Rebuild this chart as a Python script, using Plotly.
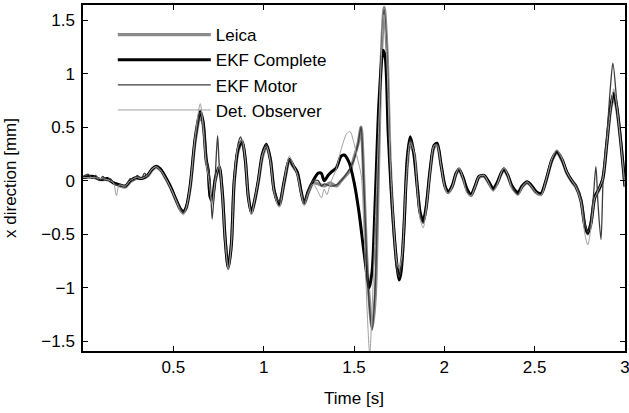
import plotly.graph_objects as go

# ---- data (time in s, displacement in mm) ----
ekf_complete_t = [0.000, 0.057, 0.096, 0.134, 0.168, 0.206, 0.234, 0.262, 0.295, 0.323, 0.356, 0.383,
                  0.405, 0.428, 0.455, 0.483, 0.511, 0.538, 0.555, 0.571, 0.593, 0.621, 0.649, 0.665,
                  0.682, 0.693, 0.704, 0.715, 0.732, 0.754, 0.771, 0.787, 0.804, 0.821, 0.837, 0.859,
                  0.881, 0.898, 0.915, 0.932, 0.948, 0.970, 0.993, 1.015, 1.037, 1.059, 1.086, 1.114,
                  1.142, 1.164, 1.186, 1.207, 1.224, 1.246, 1.274, 1.302, 1.319, 1.335, 1.357, 1.374,
                  1.402, 1.429, 1.446, 1.473, 1.501, 1.528, 1.556, 1.584, 1.600, 1.617, 1.639, 1.661,
                  1.673, 1.689, 1.706, 1.722, 1.739, 1.750, 1.761, 1.778, 1.794, 1.811, 1.827, 1.850,
                  1.866, 1.883, 1.899, 1.921, 1.943, 1.960, 1.982, 2.004, 2.021, 2.043, 2.065, 2.081,
                  2.104, 2.126, 2.148, 2.170, 2.192, 2.220, 2.242, 2.270, 2.292, 2.314, 2.330, 2.352,
                  2.375, 2.408, 2.430, 2.458, 2.480, 2.507, 2.535, 2.562, 2.596, 2.623, 2.651, 2.678,
                  2.706, 2.728, 2.756, 2.778, 2.794, 2.811, 2.833, 2.855, 2.877, 2.899, 2.921, 2.938,
                  2.954, 2.976, 3.000]
ekf_complete_y = [0.03, 0.04, 0.01, 0.02, -0.02, -0.04, -0.05, 0.00, 0.03, 0.02, 0.05, 0.11,
                  0.135, 0.11, 0.04, -0.05, -0.16, -0.26, -0.29, -0.25, -0.05, 0.40, 0.65, 0.55,
                  0.20, 0.10, -0.15, -0.18, 0.02, 0.13, -0.10, -0.55, -0.82, -0.60, 0.00, 0.30,
                  0.37, 0.20, -0.15, -0.30, -0.20, 0.00, 0.25, 0.34, 0.20, -0.10, -0.22, 0.00,
                  0.20, 0.14, 0.08, -0.10, -0.21, -0.10, 0.00, 0.07, 0.07, 0.00, 0.05, 0.08,
                  0.12, 0.23, 0.24, 0.17, -0.02, -0.30, -0.68, -1.00, -0.85, -0.20, 0.76, 1.22,
                  1.15, 0.45, -0.10, -0.50, -0.82, -0.93, -0.85, -0.40, 0.20, 0.41, 0.30, -0.05,
                  -0.30, -0.38, -0.25, 0.10, 0.33, 0.35, 0.15, -0.05, -0.10, -0.05, 0.07, 0.11,
                  0.03, -0.08, -0.13, -0.05, 0.04, 0.05, 0.00, -0.07, -0.02, 0.07, 0.11, 0.05,
                  -0.05, -0.11, -0.05, -0.01, -0.04, -0.10, -0.12, 0.00, 0.20, 0.27, 0.20, 0.08,
                  0.00, -0.05, -0.18, -0.42, -0.49, -0.40, -0.15, -0.08, 0.02, 0.35, 0.70, 0.82,
                  0.70, 0.38, -0.05]

leica_t = [0.000, 0.057, 0.096, 0.134, 0.168, 0.206, 0.234, 0.262, 0.295, 0.323, 0.356, 0.383,
           0.405, 0.428, 0.455, 0.483, 0.511, 0.538, 0.555, 0.571, 0.593, 0.621, 0.649, 0.665,
           0.682, 0.693, 0.704, 0.715, 0.732, 0.754, 0.771, 0.787, 0.804, 0.821, 0.837, 0.859,
           0.881, 0.898, 0.915, 0.932, 0.948, 0.970, 0.993, 1.015, 1.037, 1.059, 1.086, 1.114,
           1.142, 1.164, 1.186, 1.207, 1.224, 1.246, 1.274, 1.302, 1.335, 1.368, 1.402, 1.429,
           1.456, 1.479, 1.501, 1.523, 1.539, 1.550, 1.567, 1.584, 1.600, 1.617, 1.634, 1.650,
           1.667, 1.683, 1.700, 1.722, 1.739, 1.750, 1.767, 1.789, 1.811, 1.833, 1.850,
           1.866, 1.883, 1.899, 1.921, 1.943, 1.960, 1.982, 2.004, 2.021, 2.043, 2.065, 2.081,
           2.104, 2.126, 2.148, 2.170, 2.192, 2.220, 2.242, 2.270, 2.292, 2.314, 2.330, 2.352,
           2.375, 2.408, 2.430, 2.458, 2.480, 2.507, 2.535, 2.562, 2.596, 2.623, 2.651, 2.678,
           2.706, 2.728, 2.756, 2.778, 2.794, 2.811, 2.833, 2.855, 2.877, 2.899, 2.921, 2.938,
           2.954, 2.976, 3.000]
leica_y = [0.03, 0.03, 0.01, 0.01, -0.02, -0.05, -0.06, -0.01, 0.02, 0.02, 0.04, 0.10,
           0.125, 0.10, 0.03, -0.06, -0.17, -0.27, -0.30, -0.26, -0.07, 0.37, 0.61, 0.52,
           0.18, 0.08, -0.15, -0.20, 0.00, 0.12, -0.12, -0.55, -0.80, -0.60, -0.02, 0.28,
           0.36, 0.20, -0.15, -0.30, -0.21, -0.02, 0.22, 0.32, 0.20, -0.10, -0.23, -0.02,
           0.18, 0.13, 0.07, -0.10, -0.22, -0.12, -0.02, -0.03, -0.05, -0.02, -0.05, 0.00,
           0.05, 0.10, 0.22, 0.35, 0.50, 0.20, -0.60, -1.10, -1.38, -1.10, 0.00, 1.10,
           1.62, 1.20, 0.20, -0.50, -0.80, -0.86, -0.70, 0.00, 0.33, 0.25, -0.05,
           -0.30, -0.38, -0.26, 0.08, 0.31, 0.33, 0.14, -0.06, -0.11, -0.06, 0.06, 0.10,
           0.02, -0.09, -0.14, -0.06, 0.03, 0.04, -0.01, -0.08, -0.03, 0.06, 0.10, 0.04,
           -0.06, -0.12, -0.06, -0.02, -0.05, -0.11, -0.13, -0.01, 0.19, 0.26, 0.19, 0.07,
           -0.01, -0.06, -0.19, -0.43, -0.50, -0.41, -0.16, -0.09, 0.01, 0.33, 0.67, 0.78,
           0.67, 0.36, -0.06]

ekf_motor_t = [0.000, 0.030, 0.050, 0.070, 0.090, 0.110, 0.130, 0.150, 0.175, 0.206, 0.234, 0.262,
               0.280, 0.300, 0.323, 0.340, 0.356, 0.383, 0.405, 0.428, 0.455, 0.483, 0.511, 0.538,
               0.555, 0.571, 0.593, 0.621, 0.649, 0.665, 0.682, 0.693, 0.704, 0.715, 0.732, 0.745,
               0.754, 0.771, 0.787, 0.804, 0.821, 0.837, 0.859, 0.872, 0.881, 0.898, 0.915, 0.932,
               0.948, 0.970, 0.993, 1.015, 1.037, 1.059, 1.086, 1.114, 1.142, 1.164, 1.186, 1.207,
               1.224, 1.246, 1.274, 1.302, 1.320, 1.335, 1.368, 1.402, 1.429, 1.456, 1.479, 1.501,
               1.523, 1.539, 1.550, 1.567, 1.584, 1.600, 1.617, 1.634, 1.650, 1.667, 1.683, 1.700,
               1.722, 1.739, 1.750, 1.767, 1.789, 1.811, 1.833, 1.850, 1.866, 1.883, 1.899, 1.921,
               1.943, 1.960, 1.982, 2.004, 2.021, 2.043, 2.065, 2.081, 2.104, 2.126, 2.148, 2.170,
               2.192, 2.220, 2.242, 2.270, 2.292, 2.314, 2.330, 2.352, 2.375, 2.408, 2.430, 2.458,
               2.480, 2.507, 2.535, 2.562, 2.596, 2.623, 2.651, 2.678, 2.706, 2.728, 2.756, 2.778,
               2.794, 2.811, 2.825, 2.839, 2.850, 2.867, 2.880, 2.899, 2.918, 2.933, 2.954, 2.976,
               3.000]
ekf_motor_y = [0.04, 0.06, 0.02, 0.05, 0.00, 0.04, 0.00, 0.02, -0.03, -0.05, -0.05, 0.02,
               0.00, 0.05, 0.02, 0.07, 0.04, 0.11, 0.13, 0.10, 0.03, -0.06, -0.16, -0.26,
               -0.30, -0.25, -0.06, 0.38, 0.64, 0.55, 0.20, 0.12, 0.00, -0.36, 0.05, 0.42,
               0.15, -0.12, -0.55, -0.81, -0.60, 0.00, 0.35, 0.41, 0.36, 0.20, -0.15, -0.30,
               -0.20, 0.00, 0.24, 0.34, 0.20, -0.10, -0.20, 0.00, 0.20, 0.14, 0.06, -0.10,
               -0.20, -0.10, 0.00, 0.00, -0.05, -0.03, -0.05, -0.04, 0.00, 0.06, 0.12, 0.20,
               0.35, 0.50, 0.15, -0.60, -1.15, -1.40, -1.00, 0.10, 1.15, 1.60, 1.15, 0.15,
               -0.52, -0.84, -0.90, -0.72, 0.02, 0.38, 0.27, -0.05, -0.32, -0.40, -0.26, 0.09,
               0.32, 0.34, 0.14, -0.06, -0.12, -0.06, 0.06, 0.11, 0.02, -0.10, -0.14, -0.05,
               0.04, 0.05, -0.01, -0.09, -0.03, 0.07, 0.12, 0.05, -0.06, -0.13, -0.06, -0.02,
               -0.05, -0.11, -0.13, 0.00, 0.20, 0.28, 0.20, 0.08, 0.00, -0.04, -0.17, -0.40,
               -0.48, -0.40, -0.15, 0.13, -0.20, -0.55, 0.05, 0.40, 0.85, 1.10, 0.75, 0.38,
               -0.05]

det_observer_t = [0.000, 0.057, 0.096, 0.134, 0.168, 0.185, 0.200, 0.234, 0.262, 0.295, 0.323, 0.356,
                  0.383, 0.405, 0.428, 0.455, 0.483, 0.511, 0.538, 0.555, 0.571, 0.593, 0.621, 0.649,
                  0.665, 0.682, 0.693, 0.704, 0.715, 0.732, 0.754, 0.771, 0.787, 0.804, 0.821, 0.837,
                  0.859, 0.881, 0.898, 0.915, 0.932, 0.948, 0.970, 0.993, 1.015, 1.037, 1.059, 1.086,
                  1.114, 1.142, 1.164, 1.186, 1.207, 1.224, 1.246, 1.274, 1.300, 1.320, 1.335, 1.350,
                  1.370, 1.400, 1.430, 1.460, 1.478, 1.500, 1.520, 1.540, 1.556, 1.575, 1.587, 1.600,
                  1.620, 1.650, 1.665, 1.680, 1.700, 1.722, 1.739, 1.750, 1.767, 1.789, 1.811, 1.833,
                  1.850, 1.866, 1.883, 1.899, 1.921, 1.943, 1.960, 1.982, 2.004, 2.021, 2.043, 2.065,
                  2.081, 2.104, 2.126, 2.148, 2.170, 2.192, 2.220, 2.242, 2.270, 2.292, 2.314, 2.330,
                  2.352, 2.375, 2.408, 2.430, 2.458, 2.480, 2.507, 2.535, 2.562, 2.596, 2.623, 2.651,
                  2.678, 2.706, 2.728, 2.756, 2.778, 2.794, 2.811, 2.833, 2.855, 2.877, 2.899, 2.921,
                  2.938, 2.954, 2.976, 3.000]
det_observer_y = [0.03, 0.03, 0.02, 0.01, -0.02, -0.14, -0.04, -0.05, 0.00, 0.03, 0.02, 0.05,
                  0.11, 0.13, 0.10, 0.03, -0.06, -0.17, -0.28, -0.32, -0.26, -0.05, 0.42, 0.72,
                  0.50, 0.15, 0.05, -0.10, -0.22, 0.00, 0.14, -0.12, -0.56, -0.83, -0.60, 0.00,
                  0.32, 0.38, 0.20, -0.16, -0.32, -0.20, 0.00, 0.24, 0.32, 0.18, -0.12, -0.25,
                  0.00, 0.23, 0.15, 0.06, -0.12, -0.23, -0.12, -0.03, -0.10, -0.16, -0.08, -0.13,
                  -0.02, 0.10, 0.30, 0.44, 0.46, 0.35, 0.20, 0.05, -0.50, -1.30, -1.62, -1.20,
                  -0.30, 1.10, 1.55, 1.20, 0.20, -0.48, -0.78, -0.82, -0.68, 0.00, 0.36, 0.26,
                  -0.08, -0.36, -0.44, -0.28, 0.08, 0.33, 0.33, 0.14, -0.07, -0.12, -0.06, 0.07,
                  0.12, 0.02, -0.12, -0.14, -0.06, 0.04, 0.05, -0.01, -0.10, -0.04, 0.07, 0.12,
                  0.05, -0.08, -0.14, -0.06, -0.01, -0.05, -0.11, -0.14, 0.00, 0.21, 0.29, 0.21,
                  0.08, 0.00, -0.06, -0.20, -0.50, -0.60, -0.45, -0.16, -0.08, 0.02, 0.34, 0.68,
                  0.86, 0.70, 0.36, -0.06]

x_ticks = [0.5, 1, 1.5, 2, 2.5, 3]
y_ticks = [-1.5, -1, -0.5, 0, 0.5, 1, 1.5]

FONT = "Liberation Sans, Arial, Helvetica, sans-serif"

fig = go.Figure()
fig.add_trace(go.Scatter(x=leica_t, y=leica_y, name="Leica", mode="lines",
                         line=dict(color="#8a8a8a", width=3.2, shape="spline", smoothing=0.8)))
fig.add_trace(go.Scatter(x=ekf_complete_t, y=ekf_complete_y, name="EKF Complete", mode="lines",
                         line=dict(color="#000000", width=3.0, shape="spline", smoothing=0.8)))
fig.add_trace(go.Scatter(x=ekf_motor_t, y=ekf_motor_y, name="EKF Motor", mode="lines",
                         line=dict(color="#3c3c3c", width=1.3, shape="spline", smoothing=0.8)))
fig.add_trace(go.Scatter(x=det_observer_t, y=det_observer_y, name="Det. Observer", mode="lines",
                         line=dict(color="#a0a0a0", width=1.0, shape="spline", smoothing=0.8)))

axis_common = dict(showgrid=False, zeroline=False, showline=True, linecolor="black", linewidth=1.5,
                   ticks="inside", ticklen=5, tickwidth=1, tickcolor="black", mirror="ticks",
                   automargin=False, ticklabeloverflow="allow",
                   tickfont=dict(family=FONT, size=17, color="black"))

fig.update_xaxes(range=[0, 3], tickvals=x_ticks, ticktext=[str(v) for v in x_ticks],
                 title=dict(text="Time [s]", font=dict(family=FONT, size=17, color="black"), standoff=16),
                 **axis_common)
fig.update_yaxes(range=[-1.593, 1.643], tickvals=y_ticks, ticklabelstandoff=3,
                 title=dict(text="x direction [mm]", font=dict(family=FONT, size=17, color="black"), standoff=20),
                 **axis_common)

fig.update_layout(
    width=629, height=413,
    margin=dict(l=83, r=4, t=5, b=62),
    paper_bgcolor="white", plot_bgcolor="white",
    font=dict(family=FONT, size=17, color="black"),
    showlegend=True,
    legend=dict(x=0.055, y=0.965, xanchor="left", yanchor="top", bgcolor="rgba(0,0,0,0)",
                borderwidth=0, font=dict(family=FONT, size=17, color="black"),
                tracegroupgap=0, itemwidth=93),
)

fig.write_html("out.html", config={"displayModeBar": False},
               post_script="document.body.style.margin='0';document.body.style.padding='0';")
